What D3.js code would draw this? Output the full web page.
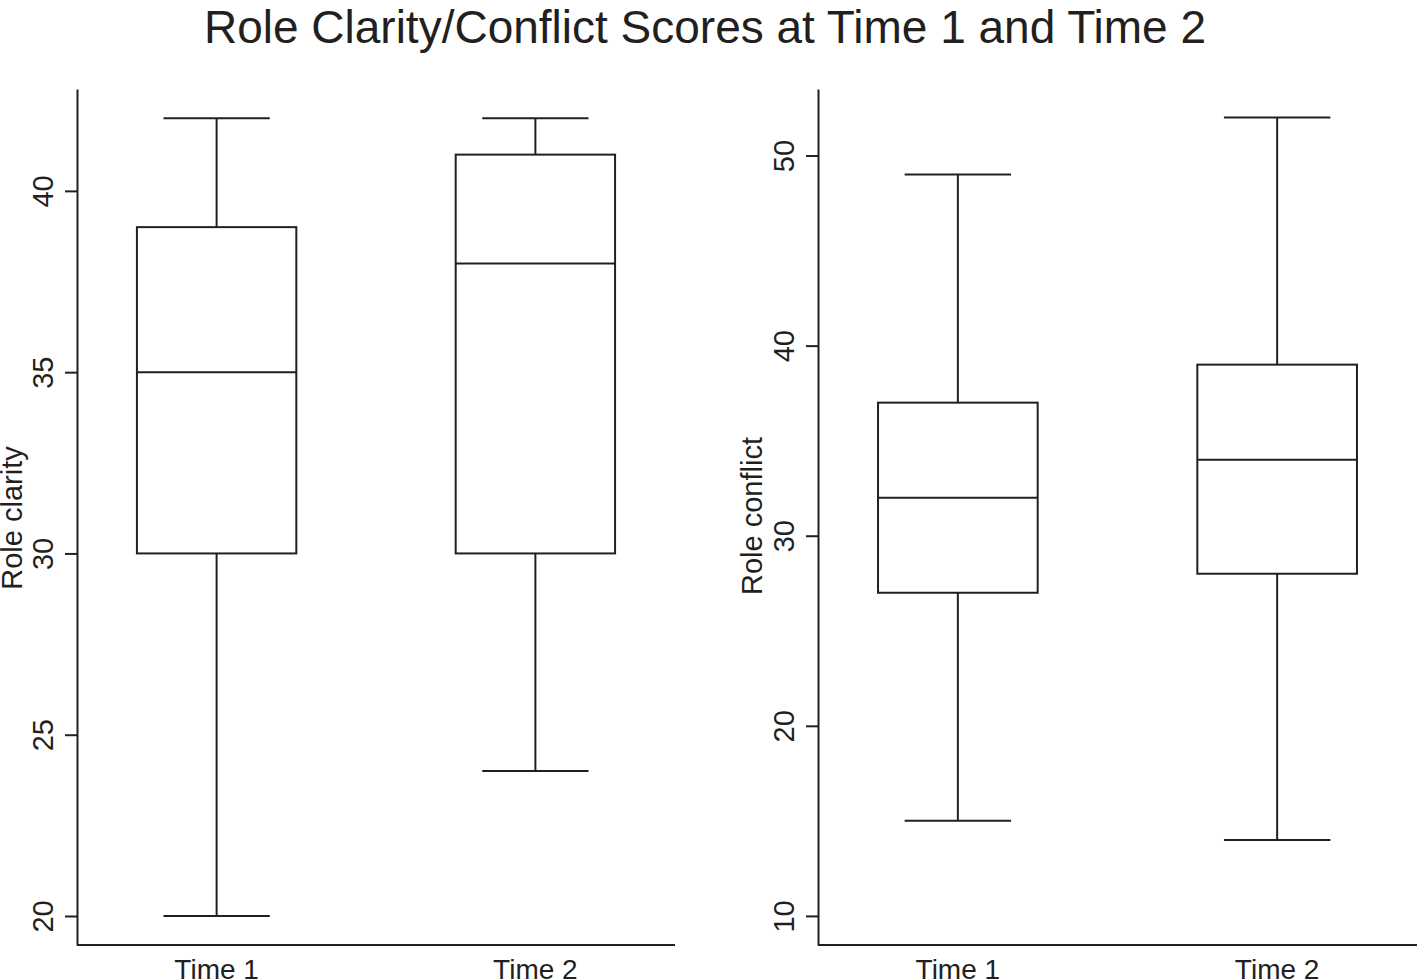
<!DOCTYPE html>
<html>
<head>
<meta charset="utf-8">
<script src="https://cdn.jsdelivr.net/npm/d3@7"></script>
<style>
  body { margin: 0; background: #fff; }
  svg { display: block; font-family: "Liberation Sans", Arial, Helvetica, sans-serif; }
</style>
</head>
<body>
<svg id="chart" width="1422" height="980"></svg>
<script>
"use strict";

var categories = ["Time 1", "Time 2"];

// role clarity box stats
var clarityMin = [20, 24];
var clarityQ1 = [30, 30];
var clarityMed = [35, 38];
var clarityQ3 = [39, 41];
var clarityMax = [42, 42];
var clarityTicks = [20, 25, 30, 35, 40];

// role conflict box stats
var conflictMin = [15, 14];
var conflictQ1 = [27, 28];
var conflictMed = [32, 34];
var conflictQ3 = [37, 39];
var conflictMax = [49, 52];
var conflictTicks = [10, 20, 30, 40, 50];

var ink = "#231f20";
var svg = d3.select("#chart");

svg.append("text")
  .attr("x", 705)
  .attr("y", 43)
  .attr("text-anchor", "middle")
  .attr("fill", ink)
  .style("font-size", "46px")
  .text("Role Clarity/Conflict Scores at Time 1 and Time 2");

function boxPanel(opt) {
  var g = svg.append("g").attr("transform", "translate(" + opt.left + ",0)");
  var x = d3.scaleBand()
    .domain(categories)
    .range([0, opt.width])
    .paddingInner(0.5)
    .paddingOuter(0.188);
  var y = d3.scaleLinear().domain(opt.domain).range([945, 89]);

  var rows = categories.map(function(c, i) {
    return { cat: c, min: opt.min[i], q1: opt.q1[i], med: opt.med[i], q3: opt.q3[i], max: opt.max[i] };
  });

  // y axis
  var yAxis = g.append("g")
    .call(d3.axisLeft(y).tickValues(opt.ticks).tickSize(12).tickSizeOuter(0).tickFormat(d3.format("d")));
  yAxis.select(".domain").attr("stroke", ink).attr("stroke-width", 2);
  yAxis.selectAll(".tick line").attr("stroke", ink).attr("stroke-width", 2);
  yAxis.selectAll(".tick text")
    .attr("transform", "rotate(-90)")
    .attr("x", 0)
    .attr("y", -24)
    .attr("dy", null)
    .attr("text-anchor", "middle")
    .attr("fill", ink)
    .style("font-size", "29px")
    .style("font-family", "inherit");

  // x axis line + labels
  g.append("line")
    .attr("x1", 0).attr("x2", opt.width)
    .attr("y1", 945).attr("y2", 945)
    .attr("stroke", ink).attr("stroke-width", 2);
  g.selectAll(".xlab").data(categories).enter().append("text")
    .attr("class", "xlab")
    .attr("x", function(d) { return x(d) + x.bandwidth() / 2; })
    .attr("y", 979)
    .attr("text-anchor", "middle")
    .attr("fill", ink)
    .style("font-size", "28px")
    .text(function(d) { return d; });

  g.append("text")
    .attr("transform", "translate(" + opt.titleX + "," + opt.titleY + ") rotate(-90)")
    .attr("text-anchor", "middle")
    .attr("fill", ink)
    .style("font-size", "29px")
    .text(opt.title);

  var bw = x.bandwidth();
  var cap = bw * 2 / 3;
  var box = g.selectAll(".box").data(rows).enter().append("g")
    .attr("class", "box")
    .attr("fill", "none")
    .attr("stroke", ink)
    .attr("stroke-width", 2);

  box.append("line")
    .attr("x1", function(d) { return x(d.cat) + bw / 2; })
    .attr("x2", function(d) { return x(d.cat) + bw / 2; })
    .attr("y1", function(d) { return y(d.q3); })
    .attr("y2", function(d) { return y(d.max); });
  box.append("line")
    .attr("x1", function(d) { return x(d.cat) + bw / 2; })
    .attr("x2", function(d) { return x(d.cat) + bw / 2; })
    .attr("y1", function(d) { return y(d.q1); })
    .attr("y2", function(d) { return y(d.min); });
  box.append("line")
    .attr("x1", function(d) { return x(d.cat) + bw / 2 - cap / 2; })
    .attr("x2", function(d) { return x(d.cat) + bw / 2 + cap / 2; })
    .attr("y1", function(d) { return y(d.max); })
    .attr("y2", function(d) { return y(d.max); });
  box.append("line")
    .attr("x1", function(d) { return x(d.cat) + bw / 2 - cap / 2; })
    .attr("x2", function(d) { return x(d.cat) + bw / 2 + cap / 2; })
    .attr("y1", function(d) { return y(d.min); })
    .attr("y2", function(d) { return y(d.min); });
  box.append("rect")
    .attr("x", function(d) { return x(d.cat); })
    .attr("width", bw)
    .attr("y", function(d) { return y(d.q3); })
    .attr("height", function(d) { return y(d.q1) - y(d.q3); });
  box.append("line")
    .attr("x1", function(d) { return x(d.cat); })
    .attr("x2", function(d) { return x(d.cat) + bw; })
    .attr("y1", function(d) { return y(d.med); })
    .attr("y2", function(d) { return y(d.med); });
}

boxPanel({
  left: 77, width: 598, domain: [19.2, 42.81],
  min: clarityMin, q1: clarityQ1, med: clarityMed, q3: clarityQ3, max: clarityMax,
  ticks: clarityTicks, title: "Role clarity", titleX: -55, titleY: 518
});

boxPanel({
  left: 818, width: 599, domain: [8.47, 53.5],
  min: conflictMin, q1: conflictQ1, med: conflictMed, q3: conflictQ3, max: conflictMax,
  ticks: conflictTicks, title: "Role conflict", titleX: -56, titleY: 516
});
</script>
</body>
</html>
